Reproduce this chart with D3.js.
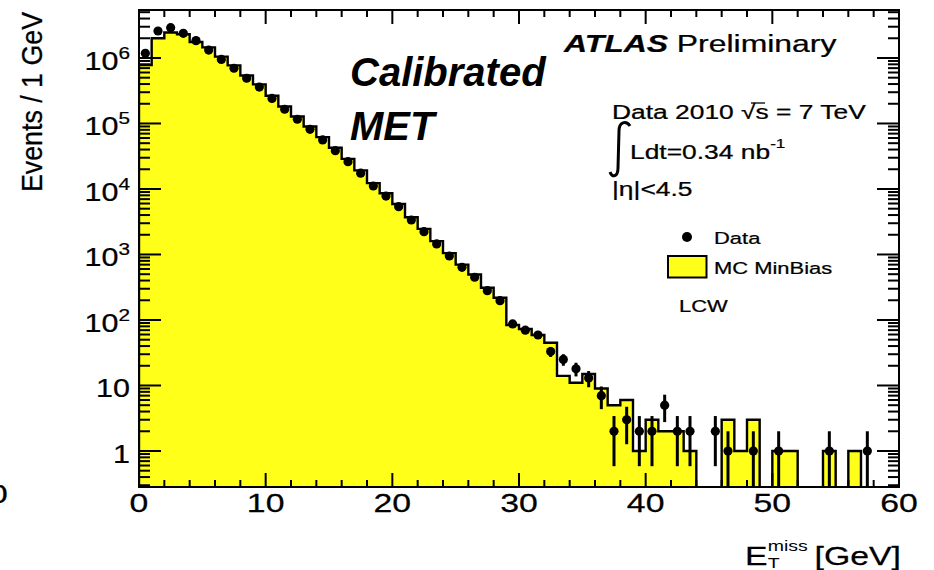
<!DOCTYPE html>
<html><head><meta charset="utf-8">
<script src="https://cdn.jsdelivr.net/npm/d3@7"></script>
<style>
body{margin:0;background:#fff}
svg{display:block}
text{font-family:"Liberation Sans",Arial,Helvetica,sans-serif;fill:#000}
text.h{stroke:#000;stroke-width:0.25px}
</style>
</head><body>
<svg id="c" width="934" height="570"></svg>
<script>
// ---- data (1 GeV bins, lower edges) ----
const binLow = [0,1,2,3,4,5,6,7,8,9,10,11,12,13,14,15,16,17,18,19,20,21,22,23,24,25,26,27,28,29,
  30,31,32,33,34,35,36,37,38,39,40,41,42,43,44,45,46,47,48,49,50,51,52,53,54,55,56,57,58,59];
const mcMinBias = [7.8e5,2.0e6,2.45e6,2.3e6,1.75e6,1.45e6,1.05e6,7.7e5,5.4e5,3.95e5,
  2.65e5,1.82e5,1.28e5,9.0e4,6.2e4,4.25e4,2.88e4,1.92e4,1.23e4,8.6e3,
  5.9e3,3.7e3,2.46e3,1.6e3,1050,700,495,310,218,84,
  73,59,45,14,11,15,9,5,6,1,
  3,2,2,1,0,0,3,1,3,0,
  1,1,0,0,1,0,1,0,0,0];
const dataEvents = [1.18e6,2.58e6,2.90e6,2.38e6,1.84e6,1.32e6,9.5e5,6.97e5,4.9e5,3.6e5,
  2.41e5,1.65e5,1.16e5,8.15e4,5.6e4,3.85e4,2.61e4,1.74e4,1.11e4,7800,
  5370,3360,2230,1450,948,637,449,280,197,87,
  70,59,33,25,18,13,7,2,3,2,
  2,5,2,2,0,2,1,0,1,0,
  1,0,0,0,1,0,0,1,0,0];
const xTickValues = [0,10,20,30,40,50,60];
const xTickLabels = ["0","10","20","30","40","50","60"];
const yTickValues = [1,10,100,1e3,1e4,1e5,1e6];
const yTickBase = ["1","10","10","10","10","10","10"];
const yTickExp = ["","","2","3","4","5","6"];

// ---- layout ----
const L=139, R=899, T=10, B=487;
const SX = 1.3;
const svg = d3.select("#c");
svg.append("rect").attr("width",934).attr("height",570).attr("fill","#fff");
const x = d3.scaleLinear().domain([0,60]).range([L,R]);
const y = d3.scaleLog().domain([0.282,5.4e6]).range([B,T]);

svg.append("clipPath").attr("id","pc").append("rect")
  .attr("x",L).attr("y",T).attr("width",R-L).attr("height",B-T);
const g = svg.append("g").attr("clip-path","url(#pc)");

const yb = B+6;
const yv = v => v>0 ? y(v) : yb;
let d = `M${x(0)},${yb}`;
binLow.forEach((lo,i)=>{
  d += `L${x(lo)},${yv(mcMinBias[i])}L${x(lo+1)},${yv(mcMinBias[i])}`;
});
d += `L${x(60)},${yb}`;
g.append("path").attr("d",d+"Z").attr("fill","#ffff1a").attr("stroke","none");
g.append("path").attr("d",d).attr("fill","none").attr("stroke","#000").attr("stroke-width",2.4)
  .attr("stroke-linejoin","miter");

// data points
binLow.forEach((lo,i)=>{
  const v = dataEvents[i];
  if(!(v>0)) return;
  const cx = x(lo+0.5);
  const e = Math.sqrt(v);
  g.append("line").attr("x1",cx).attr("x2",cx)
    .attr("y1",yv(v-e)).attr("y2",y(v+e))
    .attr("stroke","#000").attr("stroke-width",3);
  g.append("circle").attr("cx",cx).attr("cy",y(v)).attr("r",4.6).attr("fill","#000");
});

// frame
svg.append("rect").attr("x",L).attr("y",T).attr("width",R-L).attr("height",B-T)
  .attr("fill","none").attr("stroke","#000").attr("stroke-width",2);

// x ticks (bottom & top)
const ax = svg.append("g").attr("stroke","#000").attr("stroke-width",2);
for(let v=0; v<=60; v+=2){
  const major = xTickValues.includes(v);
  const len = major ? 14 : 7;
  ax.append("line").attr("x1",x(v)).attr("x2",x(v)).attr("y1",B).attr("y2",B-len);
  ax.append("line").attr("x1",x(v)).attr("x2",x(v)).attr("y1",T).attr("y2",T+len);
}
// y ticks (left & right)
const ymin = y.domain()[0], ymax = y.domain()[1];
for(let k=-1;k<=6;k++){
  for(let m=1;m<=9;m++){
    const v = m*Math.pow(10,k);
    if(v<ymin||v>ymax) continue;
    const len = m===1 ? 22 : 11;
    ax.append("line").attr("x1",L).attr("x2",L+len).attr("y1",y(v)).attr("y2",y(v));
    ax.append("line").attr("x1",R).attr("x2",R-len).attr("y1",y(v)).attr("y2",y(v));
  }
}

// helper for horizontally-stretched text
function stext(px,py,sx){
  return svg.append("g").attr("transform",`translate(${px},${py}) scale(${sx},1)`).append("text").attr("class","h");
}

// x tick labels
xTickValues.forEach((v,i)=>{
  stext(x(v),512,SX).attr("text-anchor","middle").attr("font-size",26).text(xTickLabels[i]);
});
// y tick labels
yTickValues.forEach((v,i)=>{
  const t = stext(130,y(v)+12,1.22).attr("text-anchor","end").attr("font-size",25);
  t.append("tspan").text(yTickBase[i]);
  if(yTickExp[i]) t.append("tspan").attr("font-size",17).attr("dy",-11).text(yTickExp[i]);
});

// cut-off zero at left edge
stext(-11,503,SX).attr("font-size",26).text("0");

// axis titles
svg.append("text").attr("class","h").attr("transform","translate(42,12) rotate(-90) scale(1.03,1.1)")
  .attr("text-anchor","end").attr("font-size",26).text("Events / 1 GeV");
const xt = svg.append("g").attr("transform","translate(745,565) scale(1.3,1)");
xt.append("text").attr("class","h").attr("font-size",26).text("E");
xt.append("text").attr("x",17.5).attr("y",3).attr("font-size",15).text("T");
xt.append("text").attr("x",17.5).attr("y",-14).attr("font-size",15).text("miss");
xt.append("text").attr("class","h").attr("x",53.5).attr("font-size",26).text("[GeV]");

// labels
const atl = stext(564,52,1.33).attr("font-size",24);
atl.append("tspan").attr("font-weight","bold").attr("font-style","italic").text("ATLAS");
atl.append("tspan").text(" Preliminary");

svg.append("text").attr("x",350).attr("y",86).attr("font-size",40)
  .attr("font-weight","bold").attr("font-style","italic").text("Calibrated");
svg.append("text").attr("x",350).attr("y",140).attr("font-size",40)
  .attr("font-weight","bold").attr("font-style","italic").text("MET");

const d1 = stext(612,119,1.32).attr("font-size",20);
d1.append("tspan").text("Data 2010  \u221As = 7 TeV");
// overline of the square root
svg.append("line").attr("x1",751).attr("x2",765).attr("y1",103).attr("y2",103)
  .attr("stroke","#000").attr("stroke-width",1.3);
svg.append("path").attr("d","M630,126 C626,120 619,122 619,131 L618,168 C618,177 612,178 610,172")
  .attr("fill","none").attr("stroke","#000").attr("stroke-width",3);
const d2 = stext(630,159,1.32).attr("font-size",20);
d2.append("tspan").text("Ldt=0.34 nb");
d2.append("tspan").attr("font-size",13).attr("dy",-11).text("-1");
stext(612,196,1.32).attr("font-size",20).text("|\u03B7|<4.5");

// legend
svg.append("circle").attr("cx",687).attr("cy",237).attr("r",5).attr("fill","#000");
stext(714,243.5,1.33).attr("font-size",16.5).text("Data");
svg.append("rect").attr("x",668).attr("y",256).attr("width",38.5).attr("height",21.5)
  .attr("fill","#ffff1a").attr("stroke","#000").attr("stroke-width",2);
stext(714,273.5,1.33).attr("font-size",16.5).text("MC MinBias");
stext(679,311.5,1.33).attr("font-size",16.5).text("LCW");
</script>
</body></html>
